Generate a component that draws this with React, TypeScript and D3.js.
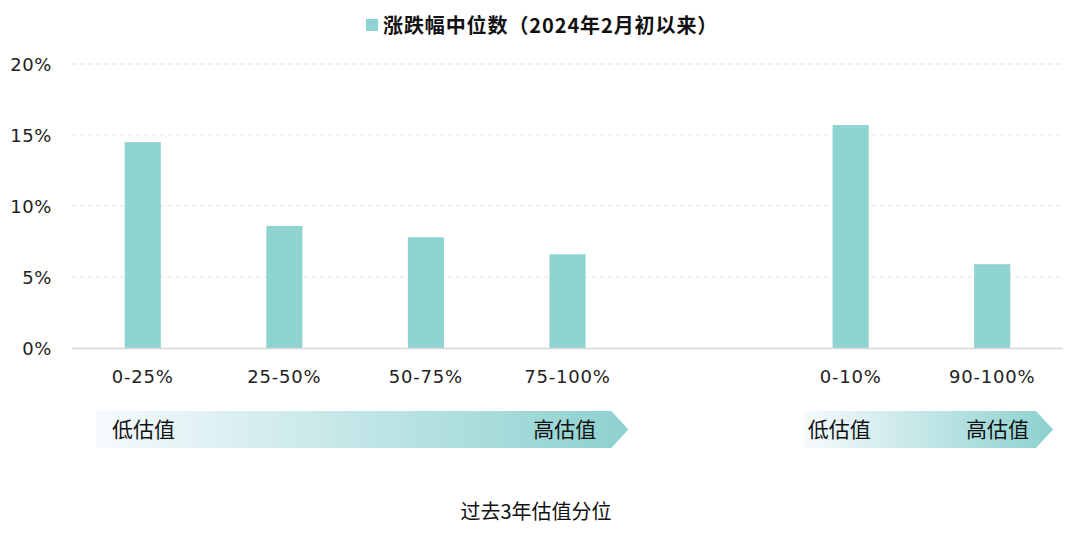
import React from "react";
import * as d3 from "d3";

const categories = ["0-25%", "25-50%", "50-75%", "75-100%", "", "0-10%", "90-100%"];
const medianChange: (number | null)[] = [14.5, 8.6, 7.8, 6.6, null, 15.7, 5.9];
const yTicks = [0, 5, 10, 15, 20];
const seriesName = "涨跌幅中位数（2024年2月初以来）";
const xTitle = "过去3年估值分位";
const arrowGroups = [
  { from: 0, to: 3, low: "低估值", high: "高估值" },
  { from: 5, to: 6, low: "低估值", high: "高估值" },
];

const W = 1080;
const H = 540;
const M = { left: 72, right: 17, top: 64, bottom: 192 };
const BAR = "#8fd3d1";
const LATIN = "'DejaVu Sans', 'Noto Sans CJK SC', sans-serif";
const CJK = "'Noto Sans CJK SC', sans-serif";

export default function App() {
  const x = d3.scaleBand<string>().domain(categories).range([M.left, W - M.right]).padding(0);
  const y = d3.scaleLinear().domain([0, 20]).range([H - M.bottom, M.top]);
  const bw = x.bandwidth() * 0.255;
  const base = y(0);

  return (
    <div style={{ position: "absolute", left: 0, top: 0 }}>
      <svg width={W} height={H} style={{ display: "block", background: "#fff" }}>
        <defs>
          <linearGradient id="arrowGrad" x1="0" x2="1" y1="0" y2="0">
            <stop offset="0%" stopColor="#f6fafd" />
            <stop offset="100%" stopColor="#8cd1cf" />
          </linearGradient>
        </defs>
        {/* legend */}
        <g>
          <rect x={366} y={19} width={12} height={12} fill={BAR} />
          <text x={383} y={33} fontFamily={CJK} fontWeight={700} fontSize={20} letterSpacing={0.9} fill="#111">
            {seriesName}
          </text>
        </g>
        {/* grid */}
        {yTicks.filter((t) => t > 0).map((t) => (
          <line key={t} x1={M.left} x2={W - M.right} y1={y(t)} y2={y(t)} stroke="#e3e3e3" strokeDasharray="4,4" strokeWidth={1} />
        ))}
        {yTicks.map((t) => (
          <text key={"yl" + t} x={52} y={y(t) + 7} textAnchor="end" fontFamily={LATIN} fontSize={18} letterSpacing={0.6} fill="#222">
            {t}%
          </text>
        ))}
        {/* bars */}
        {categories.map((c, i) => {
          const v = medianChange[i];
          if (v == null) return null;
          const cx = (x(c) as number) + x.bandwidth() / 2;
          return <rect key={"b" + i} x={cx - bw / 2} y={y(v)} width={bw} height={base - y(v)} fill={BAR} />;
        })}
        <line x1={M.left} x2={W - M.right} y1={base + 0.5} y2={base + 0.5} stroke="#d6d6d6" strokeWidth={1.5} />
        {/* category labels */}
        {categories.map((c, i) =>
          c ? (
            <text key={"c" + i} x={(x(c) as number) + x.bandwidth() / 2} y={base + 35} textAnchor="middle" fontFamily={LATIN} fontSize={18} letterSpacing={0.8} fill="#222">
              {c}
            </text>
          ) : null
        )}
        {/* arrows */}
        {arrowGroups.map((g, i) => {
          const left = (x(categories[g.from]) as number) + 24;
          const tip = (x(categories[g.to]) as number) + x.bandwidth() - 10;
          const top = 411;
          const bot = 448;
          const mid = (top + bot) / 2;
          const neck = tip - 17;
          const d = `M${left},${top}L${neck},${top}L${tip},${mid}L${neck},${bot}L${left},${bot}Z`;
          return (
            <g key={"a" + i}>
              <path d={d} fill="url(#arrowGrad)" />
              <text x={left + (i === 0 ? 16 : 4)} y={mid + 7} fontFamily={CJK} fontSize={21} fill="#111">
                {g.low}
              </text>
              <text x={neck - (i === 0 ? 15 : 7)} y={mid + 7} textAnchor="end" fontFamily={CJK} fontSize={21} fill="#111">
                {g.high}
              </text>
            </g>
          );
        })}
        <text x={536} y={519} textAnchor="middle" fontFamily={CJK} fontSize={20} fill="#111">
          {xTitle}
        </text>
      </svg>
    </div>
  );
}
